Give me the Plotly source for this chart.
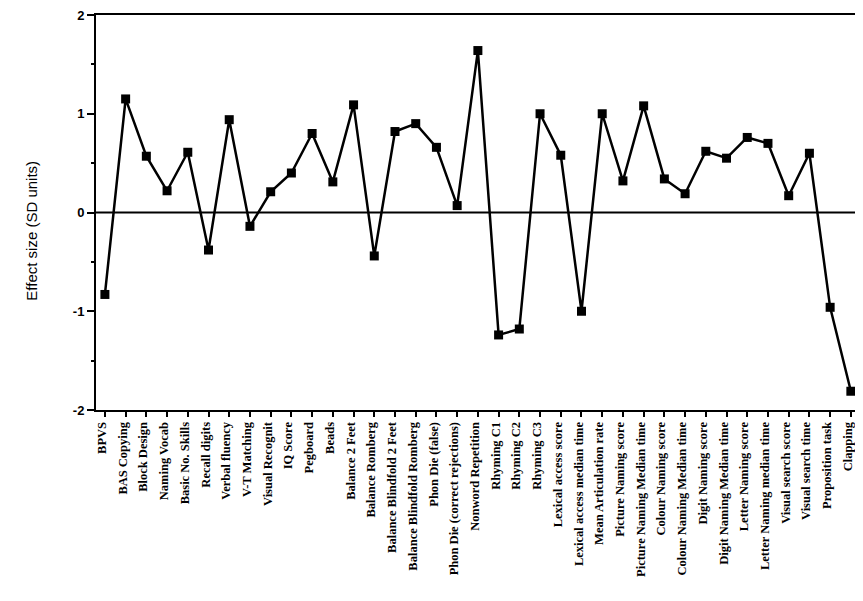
import plotly.graph_objects as go

tests = ["BPVS", "BAS Copying", "Block Design", "Naming Vocab", "Basic No. Skills",
         "Recall digits", "Verbal fluency", "V-T Matching", "Visual Recognit", "IQ Score",
         "Pegboard", "Beads", "Balance 2 Feet", "Balance Romberg",
         "Balance Blindfold 2 Feet", "Balance Blindfold Romberg", "Phon Die (false)",
         "Phon Die (correct rejections)", "Nonword Repetition", "Rhyming C1", "Rhyming C2",
         "Rhyming C3", "Lexical access score", "Lexical access median time",
         "Mean Articulation rate", "Picture Naming score", "Picture Naming Median time",
         "Colour Naming score", "Colour Naming Median time", "Digit Naming score",
         "Digit Naming Median time", "Letter Naming score", "Letter Naming median time",
         "Visual search score", "Visual search time", "Proposition task", "Clapping"]

effect = [-0.83, 1.15, 0.57, 0.22, 0.61, -0.38, 0.94, -0.14, 0.21, 0.40,
          0.80, 0.31, 1.09, -0.44, 0.82, 0.90, 0.66, 0.07, 1.64, -1.24,
          -1.18, 1.00, 0.58, -1.00, 1.00, 0.32, 1.08, 0.34, 0.19, 0.62,
          0.55, 0.76, 0.70, 0.17, 0.60, -0.96, -1.81]

xs = list(range(len(tests)))

fig = go.Figure()

fig.add_trace(go.Scatter(
    x=xs,
    y=effect,
    mode="lines+markers",
    line=dict(color="black", width=2.5),
    marker=dict(symbol="square", size=9, color="black"),
    showlegend=False,
    cliponaxis=False
))

# zero reference line
fig.add_hline(y=0, line=dict(color="black", width=2))

fig.update_xaxes(
    range=[-0.43, 36.2],
    tickmode="array",
    tickvals=xs,
    ticktext=tests,
    tickangle=-90,
    tickfont=dict(family="Liberation Serif", size=12.5, color="black", weight="bold"),
    ticklabeloverflow="allow",
    ticklabelshift=-3,
    ticks="outside",
    ticklen=5,
    tickwidth=2,
    tickcolor="black",
    showline=True,
    linecolor="black",
    linewidth=2,
    mirror=True,
    showgrid=False,
    zeroline=False,
    automargin=False
)

fig.update_yaxes(
    range=[-2, 2],
    tickvals=[-2, -1, 0, 1, 2],
    ticktext=["-2", "-1", "0", "1", "2"],
    tickfont=dict(family="Liberation Sans", size=13, color="black", weight="bold"),
    ticklabeloverflow="allow",
    ticks="outside",
    ticklen=7,
    tickwidth=2,
    tickcolor="black",
    minor=dict(tickvals=[-1.5, -0.5, 0.5, 1.5], ticks="outside", ticklen=3,
               tickwidth=2, tickcolor="black", showgrid=False),
    showline=True,
    linecolor="black",
    linewidth=2,
    showgrid=False,
    zeroline=False,
    automargin=False
)

# y title as annotation so it can sit a little below the plot centre
fig.add_annotation(
    text="Effect size (SD units)",
    xref="paper", yref="paper",
    x=-0.1, y=0.453,
    textangle=-90,
    showarrow=False,
    font=dict(family="Liberation Sans", size=15, color="black")
)

# page body adds an 8px offset on every side, so the figure is sized to fit the window
fig.update_layout(
    width=847,
    height=585,
    margin=dict(l=88, r=0, t=7, b=183),
    plot_bgcolor="white",
    paper_bgcolor="white"
)

fig.write_html("out.html")
